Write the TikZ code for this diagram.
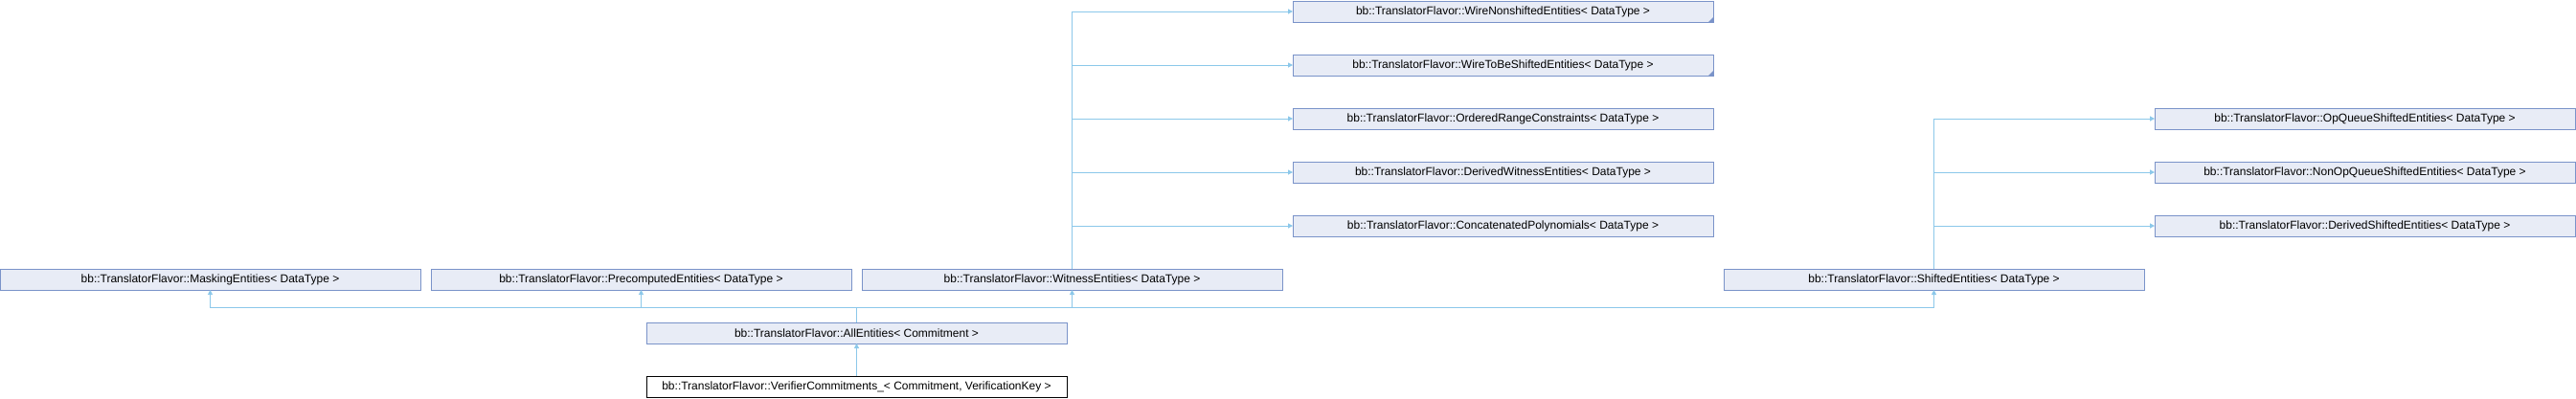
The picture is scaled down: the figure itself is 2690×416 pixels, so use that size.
\documentclass[tikz,border=0pt]{standalone}
\usepackage{fontspec}
\setmainfont{Liberation Sans}
\usetikzlibrary{arrows.meta, positioning}
\definecolor{edgeblue}{HTML}{8CC8EA}
\definecolor{boxfill}{HTML}{E8ECF6}
\definecolor{boxline}{HTML}{7A93C9}

\begin{document}
\begin{tikzpicture}[x=1pt, y=-1pt,
    cls/.style={draw=boxline, fill=boxfill, line width=1pt, minimum width=439pt,
      minimum height=22pt, inner sep=0pt, outer sep=0pt, anchor=north west,
      font=\fontsize{12}{14}\selectfont},
    leaf/.style={cls, draw=black, fill=white},
    inh/.style={draw=edgeblue, line width=1pt, -{Triangle[length=5pt,width=5pt]}}]
  \useasboundingbox (0,0) rectangle (2690,416);
  % Base classes
  \node[cls] (mask) at (0,281) {bb::TranslatorFlavor::MaskingEntities< DataType >};
  \node[cls] (precomp) at (450,281) {bb::TranslatorFlavor::PrecomputedEntities< DataType >};
  \node[cls] (witness) at (900,281) {bb::TranslatorFlavor::WitnessEntities< DataType >};
  \node[cls] (shifted) at (1800,281) {bb::TranslatorFlavor::ShiftedEntities< DataType >};
  \node[cls] (wirenon) at (1350,1) {bb::TranslatorFlavor::WireNonshiftedEntities< DataType >};
  \node[cls] (wiretobe) at (1350,57) {bb::TranslatorFlavor::WireToBeShiftedEntities< DataType >};
  \node[cls] (ordered) at (1350,113) {bb::TranslatorFlavor::OrderedRangeConstraints< DataType >};
  \node[cls] (derwit) at (1350,169) {bb::TranslatorFlavor::DerivedWitnessEntities< DataType >};
  \node[cls] (concat) at (1350,225) {bb::TranslatorFlavor::ConcatenatedPolynomials< DataType >};
  \node[cls] (opqueue) at (2250,113) {bb::TranslatorFlavor::OpQueueShiftedEntities< DataType >};
  \node[cls] (nonopq) at (2250,169) {bb::TranslatorFlavor::NonOpQueueShiftedEntities< DataType >};
  \node[cls] (dershf) at (2250,225) {bb::TranslatorFlavor::DerivedShiftedEntities< DataType >};
  \node[cls] (all) at (675,337) {bb::TranslatorFlavor::AllEntities< Commitment >};
  \node[leaf] (verifier) at (675,393) {bb::TranslatorFlavor::VerifierCommitments\_< Commitment, VerificationKey >};
  % Truncation marks
  \fill[boxline] (wirenon.south east) -- ++(-5,0) -- ++(5,-5) -- cycle;
  \fill[boxline] (wiretobe.south east) -- ++(-5,0) -- ++(5,-5) -- cycle;
  % Inheritance
  \draw[inh] (verifier.north) -- (all.south);
  \draw[inh] (all.north) -- ++(0,-16) -| (mask.south);
  \draw[inh] (all.north) -- ++(0,-16) -| (precomp.south);
  \draw[inh] (all.north) -- ++(0,-16) -| (witness.south);
  \draw[inh] (all.north) -- ++(0,-16) -| (shifted.south);
  \draw[inh] (witness.north) |- (wirenon.west);
  \draw[inh] (witness.north) |- (wiretobe.west);
  \draw[inh] (witness.north) |- (ordered.west);
  \draw[inh] (witness.north) |- (derwit.west);
  \draw[inh] (witness.north) |- (concat.west);
  \draw[inh] (shifted.north) |- (opqueue.west);
  \draw[inh] (shifted.north) |- (nonopq.west);
  \draw[inh] (shifted.north) |- (dershf.west);
\end{tikzpicture}
\end{document}
